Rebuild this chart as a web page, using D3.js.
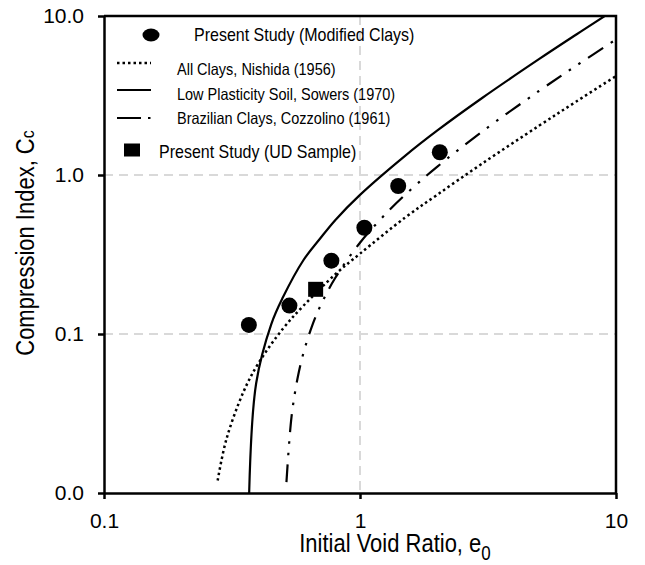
<!DOCTYPE html>
<html lang="en">
	<head>
		<meta charset="UTF-8" />
		<title>Compression Index vs Initial Void Ratio</title>
		<style>
			body { margin: 0; background: #fff; }
			text { font-family: "Liberation Sans", Arial, sans-serif; fill: #000; }
		</style>
	</head>
	<body>
		<svg width="645" height="565" id="svg"></svg>
		<script src="https://cdn.jsdelivr.net/npm/d3@7/dist/d3.min.js"></script>
		<script>
			// data
			const xTicks = [0.1, 1, 10]
			const xTickLabels = ["0.1", "1", "10"]
			const yTicks = [0.01, 0.1, 1, 10]
			const yTickLabels = ["0.0", "0.1", "1.0", "10.0"]
			const xGrid = [1]
			const yGrid = [0.1, 1]

			// All Clays, Nishida (1956) - dotted
			const nishidaE = [0.278, 0.3, 0.35, 0.4, 0.5, 0.6, 0.8, 1.0, 1.5, 2, 3, 5, 7, 10]
			const nishidaCc = [0.012, 0.0215, 0.043, 0.065, 0.108, 0.15, 0.237, 0.32, 0.54, 0.75, 1.18, 2.04, 2.9, 4.19]

			// Low Plasticity Soil, Sowers (1970) - solid
			const sowersE = [0.369, 0.393, 0.45, 0.5, 0.6, 0.7, 0.8, 1.0, 1.5, 2, 3, 5, 7, 9, 10]
			const sowersCc = [0.01, 0.049, 0.115, 0.17, 0.29, 0.4, 0.52, 0.75, 1.32, 1.9, 3.05, 5.35, 7.65, 9.95, 11.1]

			// Brazilian Clays, Cozzolino (1961) - dash dot dot
			const cozzE = [0.516, 0.54, 0.57, 0.6, 0.65, 0.7, 0.8, 1.0, 1.3, 1.6, 2, 3, 5, 7, 10]
			const cozzCc = [0.0117, 0.03, 0.0525, 0.075, 0.1125, 0.15, 0.225, 0.375, 0.6, 0.825, 1.125, 1.875, 3.375, 4.875, 7.125]

			// Present Study
			const modE = [0.368, 0.53, 0.773, 1.04, 1.41, 2.05]
			const modCc = [0.114, 0.151, 0.289, 0.466, 0.853, 1.39]
			const udE = [0.671]
			const udCc = [0.191]

			const svg = d3.select("#svg")
			const width = +svg.attr("width")
			const height = +svg.attr("height")
			const margin = { top: 16, right: 29, bottom: 72, left: 104 }
			const inner_width = width - margin.left - margin.right
			const inner_height = height - margin.top - margin.bottom
			const stretch = 1.15 // titles and legend text are drawn taller than wide

			const x = d3.scaleLog().domain([0.1, 10]).range([0, inner_width])
			const y = d3.scaleLog().domain([0.01, 10]).range([inner_height, 0])

			const g = svg
				.append("g")
				.attr("transform", `translate(${margin.left}, ${margin.top})`)

			g.append("clipPath")
				.attr("id", "plotClip")
				.append("rect")
				.attr("width", inner_width)
				.attr("height", inner_height)

			// dashed grey grid
			g.selectAll(".hgrid")
				.data(yGrid)
				.join("line")
				.attr("x1", 0)
				.attr("x2", inner_width)
				.attr("y1", (d) => y(d))
				.attr("y2", (d) => y(d))
				.attr("stroke", "#d9d9d9")
				.attr("stroke-width", 2)
				.attr("stroke-dasharray", "9,6")
			g.selectAll(".vgrid")
				.data(xGrid)
				.join("line")
				.attr("x1", (d) => x(d))
				.attr("x2", (d) => x(d))
				.attr("y1", 0)
				.attr("y2", inner_height)
				.attr("stroke", "#d9d9d9")
				.attr("stroke-width", 2)
				.attr("stroke-dasharray", "9,6")

			// axes
			const xAxis = d3
				.axisBottom(x)
				.tickValues(xTicks)
				.tickFormat((d, i) => xTickLabels[i])
				.tickSize(6)
				.tickSizeOuter(0)
				.tickPadding(14)
			const yAxis = d3
				.axisLeft(y)
				.tickValues(yTicks)
				.tickFormat((d, i) => yTickLabels[i])
				.tickSize(6)
				.tickSizeOuter(0)
				.tickPadding(14)

			const gx = g.append("g").attr("transform", `translate(0, ${inner_height})`).call(xAxis)
			const gy = g.append("g").call(yAxis)
			;[gx, gy].forEach((a) => {
				a.attr("font-family", null).attr("font-size", 21)
				a.selectAll("path, line").attr("stroke", "#000").attr("stroke-width", 2.5)
			})

			// top and right frame
			g.append("path")
				.attr("d", `M0,0H${inner_width}V${inner_height}`)
				.attr("fill", "none")
				.attr("stroke", "#000")
				.attr("stroke-width", 2.5)

			const line = d3
				.line()
				.x((d) => x(d[0]))
				.y((d) => y(d[1]))
				.curve(d3.curveCatmullRom)

			const series = [
				{ e: nishidaE, cc: nishidaCc, dash: "2.5,3", width: 2.5 },
				{ e: sowersE, cc: sowersCc, dash: null, width: 2.2 },
				{ e: cozzE, cc: cozzCc, dash: "18,9,2.5,9,2.5,9", width: 2.2 },
			]

			g.append("g")
				.attr("clip-path", "url(#plotClip)")
				.selectAll("path")
				.data(series)
				.join("path")
				.attr("d", (s) => line(s.e.map((e, i) => [e, s.cc[i]])))
				.attr("fill", "none")
				.attr("stroke", "#000")
				.attr("stroke-width", (s) => s.width)
				.attr("stroke-dasharray", (s) => s.dash)

			g.selectAll(".mod")
				.data(modE)
				.join("circle")
				.attr("cx", (d) => x(d))
				.attr("cy", (d, i) => y(modCc[i]))
				.attr("r", 8)
				.attr("fill", "#000")

			g.selectAll(".ud")
				.data(udE)
				.join("rect")
				.attr("x", (d) => x(d) - 7.5)
				.attr("y", (d, i) => y(udCc[i]) - 7.5)
				.attr("width", 15)
				.attr("height", 15)
				.attr("fill", "#000")

			// text helper: place at (tx, ty) and stretch vertically
			function label(parent, tx, ty, size, rot) {
				const r = rot ? ` rotate(${rot})` : ""
				return parent
					.append("text")
					.attr("transform", `translate(${tx}, ${ty})${r} scale(1, ${stretch})`)
					.attr("font-size", size)
			}

			// axis titles
			const yTitle = label(svg, 34, 243, 22, -90).attr("text-anchor", "middle")
			yTitle.append("tspan").text("Compression Index, C")
			yTitle.append("tspan").attr("font-size", 16).text("c")

			const xTitle = label(svg, 395, 552, 22).attr("text-anchor", "middle")
			xTitle.append("tspan").text("Initial Void Ratio, e")
			xTitle.append("tspan").attr("font-size", 17).attr("dy", 7).text("0")

			// legend
			const leg = svg.append("g")
			leg.append("ellipse").attr("cx", 151).attr("cy", 35).attr("rx", 8.5).attr("ry", 6.5)
			label(leg, 194, 41, 16).text("Present Study (Modified Clays)")

			const legLines = [
				{ label: "All Clays, Nishida (1956)", y: 63, ty: 75, dash: "2.5,3", width: 2.5 },
				{ label: "Low Plasticity Soil, Sowers (1970)", y: 90, ty: 100, dash: null, width: 2.2 },
				{ label: "Brazilian Clays, Cozzolino (1961)", y: 118, ty: 124, dash: "24,7,2.5,20", width: 2.2 },
			]
			legLines.forEach((d) => {
				leg.append("line")
					.attr("x1", 117).attr("x2", 151)
					.attr("y1", d.y).attr("y2", d.y)
					.attr("stroke", "#000")
					.attr("stroke-width", d.width)
					.attr("stroke-dasharray", d.dash)
				label(leg, 177, d.ty, 14.5).text(d.label)
			})

			leg.append("rect").attr("x", 124).attr("y", 143.5).attr("width", 16).attr("height", 13)
			label(leg, 159, 158, 16).text("Present Study (UD Sample)")
		</script>
	</body>
</html>
